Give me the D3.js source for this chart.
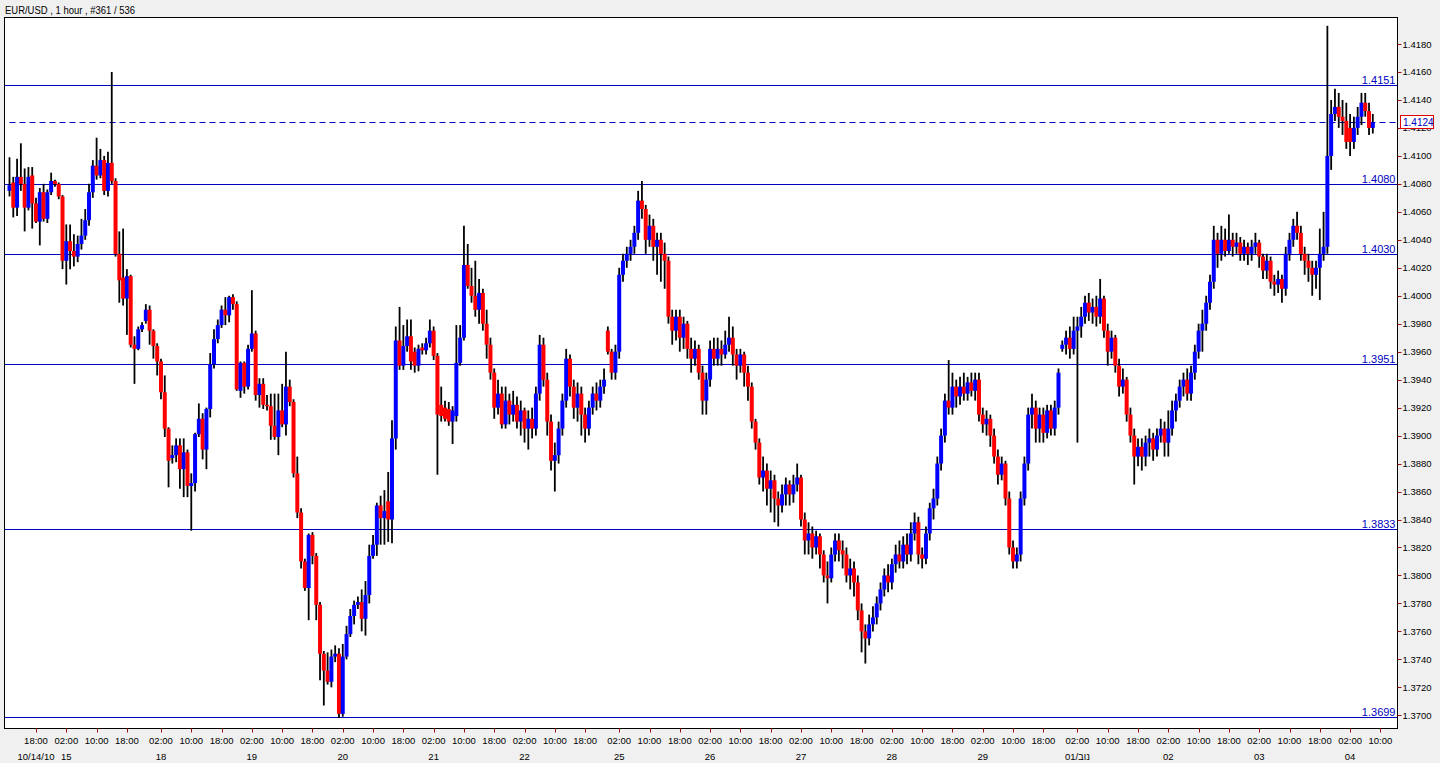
<!DOCTYPE html>
<html><head><meta charset="utf-8">
<script src="https://cdn.jsdelivr.net/npm/d3@7"></script>
<style>html,body{margin:0;padding:0;background:#f0f0f0;overflow:hidden}text{font-family:"Liberation Sans",Arial,sans-serif}</style>
</head><body><svg id="c" width="1440" height="763"></svg>
<script>
const title = "EUR/USD , 1 hour , #361 / 536";
const dayLabels = ["10/14/10","15","18","19","20","21","22","25","26","27","28","29","01/נוב","02","03","04"];
const dayFirstHour = [11,0,0,0,0,0,0,0,0,0,0,0,0,0,0,0];
const dayLastHour  = [23,23,23,23,23,23,23,23,23,23,23,23,23,23,23,10];
const weekendAfter = ["15","22","29"];
const timeTickHours = [2,10,18];
const priceTicks = [1.3700,1.3720,1.3740,1.3760,1.3780,1.3800,1.3820,1.3840,1.3860,1.3880,1.3900,1.3920,1.3940,1.3960,1.3980,1.4000,1.4020,1.4040,1.4060,1.4080,1.4100,1.4120,1.4140,1.4160,1.4180];
const levels = [1.4151,1.4080,1.4030,1.3951,1.3833,1.3699];
const bid = 1.4124;

const open = [
1.4075,1.4081,1.4063,1.4085,1.4080,1.4063,1.4086,1.4066,1.4053,1.4074,
1.4055,1.4074,1.4082,1.4080,1.4071,1.4025,1.4039,1.4032,1.4028,1.4037,
1.4043,1.4054,1.4074,1.4093,1.4086,1.4097,1.4075,1.4095,1.4082,1.4030,
1.4013,1.3998,1.4014,1.3965,1.3962,1.3976,1.3982,1.3990,1.3975,1.3964,
1.3953,1.3931,1.3905,1.3884,1.3886,1.3893,1.3876,1.3888,1.3864,1.3866,
1.3901,1.3912,1.3890,1.3919,1.3951,1.3969,1.3979,1.3990,1.3986,1.3999,
1.3994,1.3932,1.3952,1.3935,1.3962,1.3973,1.3929,1.3937,1.3922,1.3921,
1.3907,1.3899,1.3918,1.3908,1.3935,1.3924,1.3873,1.3845,1.3810,1.3791,
1.3829,1.3814,1.3779,1.3744,1.3732,1.3724,1.3742,1.3744,1.3701,1.3742,
1.3758,1.3771,1.3779,1.3781,1.3769,1.3786,1.3814,1.3822,1.3850,1.3841,
1.3853,1.3840,1.3898,1.3968,1.3950,1.3964,1.3971,1.3960,1.3950,1.3963,
1.3961,1.3966,1.3975,1.3957,1.3922,1.3920,1.3919,1.3910,1.3914,1.3952,
1.3970,1.4022,1.4007,1.4000,1.3990,1.4002,1.3980,1.3965,1.3945,1.3920,
1.3930,1.3908,1.3925,1.3915,1.3922,1.3910,1.3918,1.3905,1.3912,1.3905,
1.3930,1.3965,1.3940,1.3910,1.3882,1.3886,1.3905,1.3925,1.3955,1.3935,
1.3920,1.3930,1.3915,1.3905,1.3920,1.3930,1.3925,1.3935,1.3975,1.3960,
1.3945,1.3960,1.4015,1.4025,1.4030,1.4035,1.4045,1.4068,1.4062,1.4040,
1.4050,1.4035,1.4040,1.4030,1.4025,1.3985,1.3975,1.3985,1.3970,1.3980,
1.3962,1.3955,1.3962,1.3945,1.3925,1.3940,1.3962,1.3955,1.3962,1.3958,
1.3965,1.3970,1.3958,1.3950,1.3958,1.3945,1.3935,1.3910,1.3895,1.3870,
1.3875,1.3862,1.3868,1.3855,1.3850,1.3858,1.3865,1.3858,1.3865,1.3870,
1.3840,1.3825,1.3830,1.3820,1.3828,1.3815,1.3800,1.3798,1.3815,1.3825,
1.3818,1.3815,1.3800,1.3805,1.3795,1.3775,1.3760,1.3755,1.3765,1.3770,
1.3780,1.3790,1.3800,1.3795,1.3808,1.3815,1.3810,1.3822,1.3815,1.3830,
1.3838,1.3815,1.3812,1.3830,1.3848,1.3855,1.3880,1.3900,1.3925,1.3920,
1.3935,1.3928,1.3935,1.3930,1.3938,1.3932,1.3940,1.3915,1.3908,1.3912,
1.3900,1.3885,1.3872,1.3880,1.3855,1.3820,1.3810,1.3815,1.3855,1.3880,
1.3915,1.3920,1.3905,1.3915,1.3902,1.3918,1.3905,1.3920,1.3962,1.3965,
1.3970,1.3962,1.3975,1.3978,1.3985,1.3995,1.3988,1.3992,1.3985,1.3998,
1.3975,1.3960,1.3970,1.3950,1.3935,1.3940,1.3915,1.3900,1.3885,1.3892,
1.3885,1.3895,1.3898,1.3890,1.3900,1.3905,1.3895,1.3905,1.3918,1.3925,
1.3935,1.3940,1.3930,1.3945,1.3960,1.3975,1.3980,1.3995,1.4010,1.4040,
1.4030,1.4040,1.4032,1.4040,1.4035,1.4038,1.4030,1.4035,1.4030,1.4035,
1.4038,1.4028,1.4018,1.4025,1.4010,1.4008,1.4012,1.4005,1.4030,1.4040,
1.4050,1.4045,1.4030,1.4025,1.4020,1.4015,1.4020,1.4030,1.4035,1.4100,
1.4130,1.4135,1.4128,1.4125,1.4120,1.4110,1.4120,1.4128,1.4138,1.4132,1.4120];
const high = [
1.4099,1.4085,1.4098,1.4109,1.4091,1.4092,1.4092,1.4070,1.4077,1.4080,
1.4076,1.4088,1.4083,1.4081,1.4072,1.4051,1.4051,1.4044,1.4043,1.4055,
1.4062,1.4080,1.4097,1.4113,1.4105,1.4100,1.4103,1.4160,1.4084,1.4046,
1.4048,1.4019,1.4015,1.3971,1.3978,1.3981,1.3994,1.3993,1.3976,1.3966,
1.3955,1.3943,1.3906,1.3893,1.3898,1.3898,1.3898,1.3890,1.3873,1.3902,
1.3923,1.3916,1.3920,1.3959,1.3976,1.3983,1.3993,1.3999,1.4000,1.4001,
1.3996,1.3953,1.3953,1.3965,1.4004,1.3975,1.3941,1.3941,1.3929,1.3930,
1.3930,1.3930,1.3937,1.3960,1.3940,1.3926,1.3885,1.3848,1.3812,1.3830,
1.3831,1.3816,1.3781,1.3746,1.3745,1.3747,1.3750,1.3748,1.3751,1.3764,
1.3776,1.3782,1.3785,1.3790,1.3796,1.3822,1.3829,1.3852,1.3857,1.3861,
1.3874,1.3911,1.3978,1.3992,1.3979,1.3983,1.3983,1.3963,1.3965,1.3966,
1.3970,1.3983,1.3978,1.3959,1.3935,1.3925,1.3924,1.3921,1.3979,1.3979,
1.4050,1.4037,1.4020,1.4025,1.4012,1.4005,1.3990,1.3970,1.3948,1.3940,
1.3935,1.3935,1.3930,1.3932,1.3928,1.3925,1.3920,1.3918,1.3920,1.3935,
1.3972,1.3970,1.3945,1.3915,1.3895,1.3910,1.3930,1.3962,1.3958,1.3940,
1.3938,1.3935,1.3920,1.3925,1.3935,1.3938,1.3940,1.3948,1.3978,1.3962,
1.3965,1.4020,1.4030,1.4035,1.4040,1.4050,1.4075,1.4082,1.4065,1.4058,
1.4055,1.4045,1.4045,1.4038,1.4028,1.3990,1.3990,1.3990,1.3985,1.3982,
1.3970,1.3968,1.3965,1.3950,1.3945,1.3968,1.3970,1.3970,1.3968,1.3975,
1.3985,1.3978,1.3962,1.3962,1.3960,1.3950,1.3938,1.3912,1.3898,1.3885,
1.3880,1.3875,1.3872,1.3860,1.3865,1.3870,1.3868,1.3872,1.3880,1.3872,
1.3845,1.3838,1.3835,1.3832,1.3830,1.3818,1.3810,1.3820,1.3830,1.3830,
1.3825,1.3820,1.3812,1.3810,1.3800,1.3780,1.3765,1.3772,1.3778,1.3785,
1.3795,1.3805,1.3808,1.3812,1.3822,1.3825,1.3828,1.3830,1.3838,1.3845,
1.3842,1.3820,1.3835,1.3852,1.3862,1.3885,1.3905,1.3930,1.3954,1.3945,
1.3940,1.3942,1.3945,1.3942,1.3945,1.3945,1.3945,1.3920,1.3918,1.3915,
1.3905,1.3890,1.3885,1.3882,1.3860,1.3825,1.3820,1.3860,1.3885,1.3920,
1.3930,1.3925,1.3920,1.3920,1.3922,1.3922,1.3925,1.3948,1.3968,1.3975,
1.3978,1.3985,1.3985,1.3992,1.4000,1.4002,1.3998,1.4000,1.4012,1.4000,
1.3980,1.3975,1.3972,1.3955,1.3948,1.3942,1.3920,1.3905,1.3898,1.3898,
1.3900,1.3905,1.3902,1.3905,1.3912,1.3910,1.3918,1.3925,1.3930,1.3940,
1.3945,1.3948,1.3950,1.3965,1.3980,1.3990,1.4000,1.4015,1.4050,1.4045,
1.4050,1.4048,1.4058,1.4045,1.4045,1.4042,1.4040,1.4038,1.4040,1.4045,
1.4040,1.4030,1.4030,1.4028,1.4015,1.4018,1.4015,1.4035,1.4045,1.4055,
1.4060,1.4050,1.4035,1.4030,1.4025,1.4025,1.4048,1.4060,1.4193,1.4140,
1.4148,1.4145,1.4140,1.4138,1.4130,1.4128,1.4135,1.4145,1.4145,1.4138,1.4130];
const low = [
1.4071,1.4056,1.4057,1.4075,1.4046,1.4061,1.4048,1.4052,1.4036,1.4053,
1.4052,1.4072,1.4078,1.4069,1.4019,1.4008,1.4019,1.4021,1.4024,1.4033,
1.4040,1.4050,1.4070,1.4083,1.4084,1.4072,1.4071,1.4080,1.4028,1.3995,
1.3993,1.3972,1.3963,1.3937,1.3961,1.3974,1.3980,1.3965,1.3955,1.3943,
1.3926,1.3899,1.3863,1.3880,1.3881,1.3862,1.3856,1.3856,1.3832,1.3860,
1.3899,1.3883,1.3876,1.3913,1.3948,1.3966,1.3977,1.3979,1.3981,1.3990,
1.3932,1.3927,1.3930,1.3933,1.3960,1.3925,1.3920,1.3919,1.3918,1.3897,
1.3897,1.3886,1.3906,1.3900,1.3921,1.3870,1.3841,1.3805,1.3789,1.3768,
1.3808,1.3768,1.3725,1.3707,1.3722,1.3720,1.3738,1.3698,1.3699,1.3740,
1.3756,1.3765,1.3776,1.3760,1.3757,1.3780,1.3812,1.3814,1.3822,1.3822,
1.3824,1.3823,1.3890,1.3947,1.3947,1.3960,1.3947,1.3945,1.3946,1.3958,
1.3958,1.3963,1.3954,1.3872,1.3910,1.3910,1.3907,1.3894,1.3910,1.3950,
1.3968,1.4005,1.3995,1.3985,1.3980,1.3975,1.3955,1.3940,1.3912,1.3915,
1.3905,1.3905,1.3908,1.3910,1.3905,1.3900,1.3895,1.3890,1.3898,1.3900,
1.3925,1.3935,1.3900,1.3875,1.3860,1.3880,1.3900,1.3920,1.3928,1.3912,
1.3910,1.3900,1.3895,1.3900,1.3915,1.3918,1.3920,1.3930,1.3958,1.3940,
1.3940,1.3955,1.4010,1.4020,1.4025,1.4030,1.4040,1.4055,1.4030,1.4035,
1.4025,1.4015,1.4010,1.4005,1.3980,1.3965,1.3968,1.3960,1.3962,1.3955,
1.3945,1.3950,1.3940,1.3915,1.3915,1.3935,1.3950,1.3950,1.3950,1.3955,
1.3960,1.3950,1.3940,1.3945,1.3935,1.3925,1.3905,1.3890,1.3865,1.3860,
1.3850,1.3845,1.3838,1.3835,1.3845,1.3850,1.3850,1.3852,1.3860,1.3835,
1.3815,1.3815,1.3812,1.3815,1.3805,1.3795,1.3780,1.3795,1.3810,1.3810,
1.3805,1.3795,1.3790,1.3785,1.3768,1.3745,1.3737,1.3750,1.3760,1.3765,
1.3775,1.3785,1.3788,1.3790,1.3802,1.3805,1.3805,1.3808,1.3810,1.3825,
1.3808,1.3805,1.3808,1.3825,1.3840,1.3850,1.3875,1.3895,1.3915,1.3915,
1.3920,1.3922,1.3925,1.3925,1.3928,1.3925,1.3910,1.3902,1.3900,1.3892,
1.3880,1.3865,1.3868,1.3850,1.3815,1.3805,1.3805,1.3810,1.3850,1.3875,
1.3905,1.3895,1.3895,1.3895,1.3898,1.3900,1.3900,1.3915,1.3960,1.3958,
1.3955,1.3958,1.3895,1.3970,1.3980,1.3982,1.3980,1.3978,1.3980,1.3970,
1.3950,1.3955,1.3945,1.3928,1.3930,1.3910,1.3895,1.3865,1.3878,1.3875,
1.3878,1.3885,1.3882,1.3885,1.3895,1.3885,1.3885,1.3900,1.3910,1.3920,
1.3928,1.3925,1.3925,1.3940,1.3955,1.3960,1.3975,1.3990,1.4005,1.4020,
1.4025,1.4028,1.4030,1.4028,1.4030,1.4025,1.4025,1.4022,1.4025,1.4030,
1.4020,1.4012,1.4012,1.4005,1.4000,1.4002,1.3995,1.4000,1.4025,1.4035,
1.4040,1.4025,1.4015,1.4010,1.4000,1.4005,1.3997,1.4025,1.4030,1.4090,
1.4125,1.4120,1.4115,1.4105,1.4100,1.4105,1.4115,1.4122,1.4128,1.4115,1.4116];
const close = [
1.4079,1.4063,1.4085,1.4080,1.4063,1.4085,1.4066,1.4053,1.4074,1.4055,
1.4074,1.4082,1.4080,1.4071,1.4025,1.4039,1.4032,1.4028,1.4037,1.4043,
1.4054,1.4074,1.4093,1.4086,1.4097,1.4075,1.4095,1.4082,1.4030,1.4011,
1.3998,1.4014,1.3965,1.3962,1.3976,1.3979,1.3990,1.3975,1.3964,1.3953,
1.3931,1.3905,1.3882,1.3886,1.3893,1.3876,1.3888,1.3864,1.3866,1.3901,
1.3912,1.3890,1.3919,1.3951,1.3969,1.3979,1.3990,1.3986,1.3999,1.3994,
1.3933,1.3952,1.3935,1.3962,1.3973,1.3929,1.3937,1.3922,1.3921,1.3907,
1.3899,1.3918,1.3908,1.3935,1.3924,1.3873,1.3845,1.3810,1.3791,1.3829,
1.3814,1.3779,1.3744,1.3732,1.3724,1.3742,1.3744,1.3701,1.3742,1.3758,
1.3771,1.3779,1.3781,1.3769,1.3786,1.3814,1.3822,1.3850,1.3841,1.3846,
1.3840,1.3898,1.3968,1.3950,1.3964,1.3971,1.3953,1.3950,1.3962,1.3961,
1.3966,1.3975,1.3957,1.3915,1.3914,1.3912,1.3910,1.3918,1.3952,1.3970,
1.4022,1.4007,1.4000,1.3990,1.4002,1.3980,1.3965,1.3945,1.3920,1.3930,
1.3908,1.3925,1.3915,1.3922,1.3910,1.3918,1.3905,1.3912,1.3905,1.3930,
1.3965,1.3940,1.3910,1.3882,1.3886,1.3905,1.3925,1.3955,1.3935,1.3920,
1.3930,1.3915,1.3905,1.3920,1.3930,1.3925,1.3935,1.3940,1.3960,1.3945,
1.3960,1.4015,1.4025,1.4030,1.4035,1.4045,1.4068,1.4062,1.4040,1.4050,
1.4035,1.4040,1.4030,1.4025,1.3985,1.3975,1.3985,1.3970,1.3980,1.3962,
1.3955,1.3962,1.3945,1.3925,1.3940,1.3962,1.3955,1.3962,1.3958,1.3965,
1.3970,1.3958,1.3950,1.3958,1.3945,1.3935,1.3910,1.3895,1.3870,1.3875,
1.3862,1.3868,1.3855,1.3850,1.3858,1.3865,1.3858,1.3865,1.3870,1.3840,
1.3825,1.3830,1.3820,1.3828,1.3815,1.3800,1.3798,1.3815,1.3825,1.3818,
1.3815,1.3800,1.3805,1.3795,1.3775,1.3760,1.3755,1.3765,1.3770,1.3780,
1.3790,1.3800,1.3795,1.3808,1.3815,1.3810,1.3822,1.3815,1.3830,1.3838,
1.3815,1.3812,1.3830,1.3848,1.3855,1.3880,1.3900,1.3925,1.3920,1.3935,
1.3928,1.3935,1.3930,1.3938,1.3932,1.3940,1.3915,1.3908,1.3912,1.3900,
1.3885,1.3872,1.3880,1.3855,1.3820,1.3810,1.3815,1.3855,1.3880,1.3915,
1.3920,1.3905,1.3915,1.3902,1.3918,1.3905,1.3920,1.3945,1.3965,1.3970,
1.3962,1.3975,1.3978,1.3985,1.3995,1.3988,1.3992,1.3985,1.3998,1.3975,
1.3960,1.3970,1.3950,1.3935,1.3940,1.3915,1.3900,1.3885,1.3892,1.3885,
1.3895,1.3898,1.3890,1.3900,1.3905,1.3895,1.3905,1.3918,1.3925,1.3935,
1.3940,1.3930,1.3945,1.3960,1.3975,1.3980,1.3995,1.4010,1.4040,1.4030,
1.4040,1.4032,1.4040,1.4035,1.4038,1.4030,1.4035,1.4030,1.4035,1.4038,
1.4028,1.4018,1.4025,1.4010,1.4008,1.4012,1.4005,1.4030,1.4040,1.4050,
1.4045,1.4030,1.4025,1.4020,1.4015,1.4020,1.4030,1.4035,1.4100,1.4130,
1.4135,1.4128,1.4125,1.4110,1.4110,1.4120,1.4128,1.4138,1.4132,1.4120,1.4124];

// ---- bar timeline ----
const times = [];
dayLabels.forEach((d, k) => {
  for (let h = dayFirstHour[k]; h <= dayLastHour[k]; h++) times.push({day: d, hour: h});
  if (weekendAfter.includes(d)) times.push({day: null, hour: 23});
});
const bars = open.map((o, i) => ({i, o, h: high[i], l: low[i], c: close[i]}));

const svg = d3.select("#c");
const W = 1440, H = 763;
const P = {l: 4.5, r: 1397.5, t: 17.5, b: 728.5};

const x = d3.scaleLinear().domain([0, times.length - 1]).range([9.5, 9.5 + 3.787 * (times.length - 1)]);
const y = d3.scaleLinear().domain([1.3700, 1.4180]).range([715.3, 44]);

svg.append("rect").attr("width", W).attr("height", H).attr("fill", "#f0f0f0");
svg.append("text").attr("x", 5).attr("y", 14).attr("font-size", 11).attr("fill", "#000")
  .attr("textLength", 130).attr("lengthAdjust", "spacingAndGlyphs").text(title);
svg.append("rect").attr("x", P.l).attr("y", P.t).attr("width", P.r - P.l).attr("height", P.b - P.t)
  .attr("fill", "#fff").attr("stroke", "#000").attr("stroke-width", 1);

svg.append("clipPath").attr("id", "clip").append("rect")
  .attr("x", P.l + 0.5).attr("y", P.t + 0.5).attr("width", P.r - P.l - 1).attr("height", P.b - P.t - 1);
const plot = svg.append("g").attr("clip-path", "url(#clip)");

const blue = "#0000c0";
// support/resistance levels
plot.selectAll("line.lvl").data(levels).join("line").attr("class", "lvl")
  .attr("x1", P.l).attr("x2", P.r).attr("y1", d => Math.round(y(d)) + 0.5).attr("y2", d => Math.round(y(d)) + 0.5)
  .attr("stroke", blue).attr("stroke-width", 1);
plot.selectAll("text.lvl").data(levels).join("text").attr("class", "lvl")
  .attr("x", P.r - 2).attr("y", d => Math.round(y(d)) - 1.5).attr("text-anchor", "end")
  .attr("font-size", 11).attr("fill", blue).text(d => d3.format(".4f")(d));
// bid dashed line
plot.append("line").attr("x1", P.l + 5).attr("x2", P.r).attr("y1", Math.round(y(bid)) + 0.5).attr("y2", Math.round(y(bid)) + 0.5)
  .attr("stroke", blue).attr("stroke-width", 1).attr("stroke-dasharray", "6,4");

// candles
const g = plot.append("g");
bars.forEach(b => {
  const cx = x(b.i);
  g.append("line").attr("x1", cx).attr("x2", cx).attr("y1", y(b.h)).attr("y2", y(b.l))
    .attr("stroke", "#000").attr("stroke-width", 1.8);
  const top = y(Math.max(b.o, b.c)), bot = y(Math.min(b.o, b.c));
  g.append("rect").attr("x", cx - 2).attr("width", 4).attr("y", top).attr("height", Math.max(1.2, bot - top))
    .attr("fill", b.c >= b.o ? "#0000ff" : "#ff0000");
});

// right price axis
const tickCol = "#a01010";
svg.selectAll("line.pt").data(priceTicks).join("line").attr("class", "pt")
  .attr("x1", P.r).attr("x2", P.r + 4).attr("y1", d => Math.round(y(d)) + 0.5).attr("y2", d => Math.round(y(d)) + 0.5)
  .attr("stroke", tickCol);
svg.selectAll("text.pt").data(priceTicks).join("text").attr("class", "pt")
  .attr("x", P.r + 5).attr("y", d => y(d) + 3.5).attr("font-size", 9.5).attr("fill", "#000")
  .text(d => d3.format(".4f")(d));
// bid label box (covers the tick label beneath, as in the original)
const by = Math.round(y(bid));
svg.append("rect").attr("x", 1400.5).attr("y", by - 6.5).attr("width", 33).attr("height", 13)
  .attr("fill", "#fff").attr("stroke", "#e00000");
svg.append("text").attr("x", 1403).attr("y", by + 4).attr("font-size", 10).attr("fill", blue).text(d3.format(".4f")(bid));

// bottom time axis
const tticks = times.map((t, i) => ({...t, i})).filter(t => t.day !== null && timeTickHours.includes(t.hour));
svg.selectAll("line.tt").data(tticks).join("line").attr("class", "tt")
  .attr("x1", d => Math.round(x(d.i)) + 0.5).attr("x2", d => Math.round(x(d.i)) + 0.5)
  .attr("y1", P.b).attr("y2", P.b + 4).attr("stroke", tickCol);
svg.selectAll("text.tt").data(tticks).join("text").attr("class", "tt")
  .attr("x", d => x(d.i)).attr("y", 744).attr("text-anchor", "middle").attr("font-size", 9.5).attr("fill", "#000")
  .text(d => d3.format("02d")(d.hour) + ":00");
const seen = new Set();
const dticks = tticks.filter(t => { if (seen.has(t.day)) return false; seen.add(t.day); return true; });
svg.selectAll("text.dt").data(dticks).join("text").attr("class", "dt")
  .attr("x", d => x(d.i)).attr("y", 760).attr("text-anchor", "middle").attr("font-size", 9.5).attr("fill", "#000")
  .attr("direction", "ltr")
  .text(d => d.day);
</script></body></html>
